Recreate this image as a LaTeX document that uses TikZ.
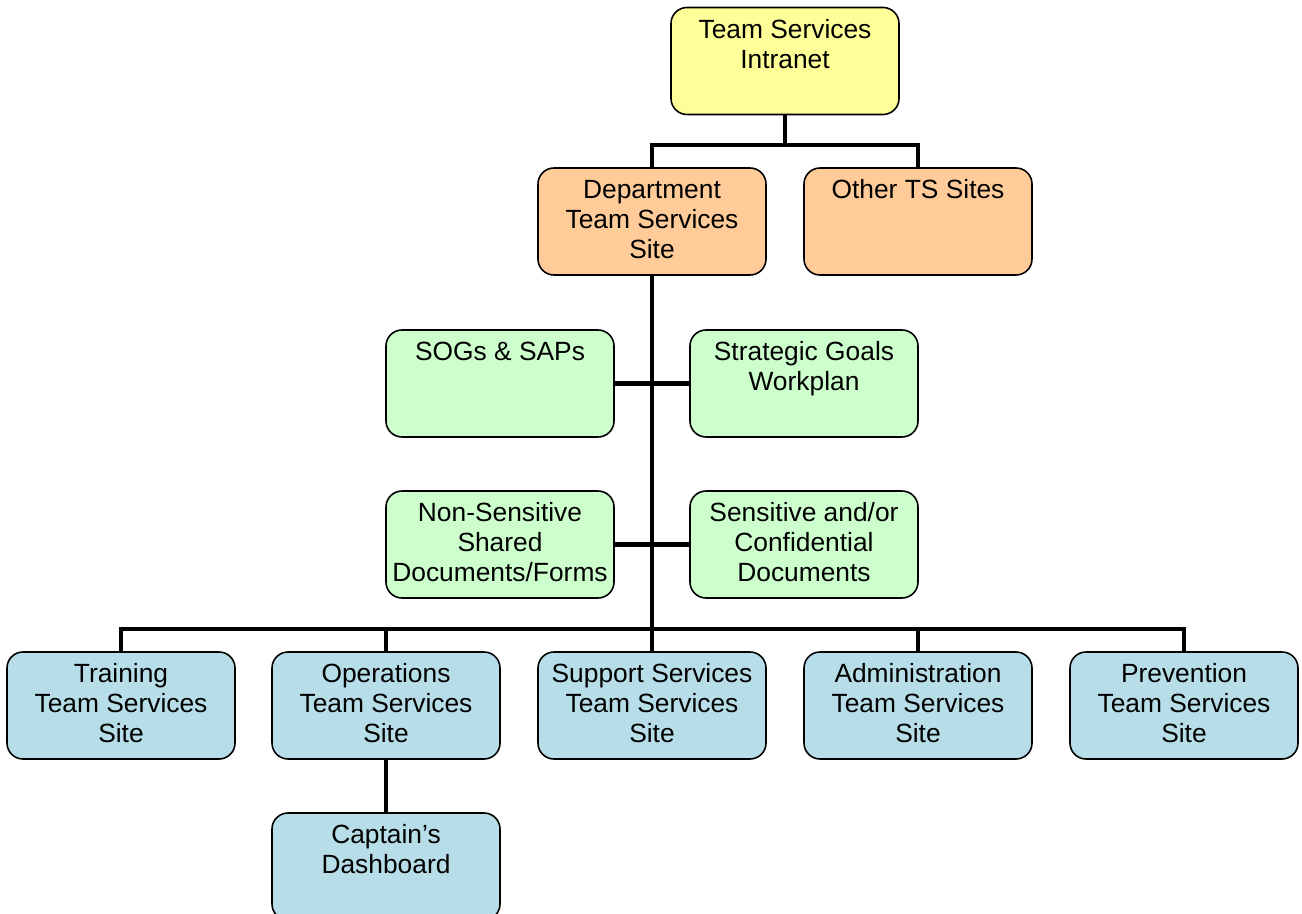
\documentclass[tikz,border=0pt]{standalone}
\usepackage{fontspec}
\setmainfont{Liberation Sans}
\usepackage{tikz}

\definecolor{intranetyellow}{HTML}{FFFF99}
\definecolor{deptorange}{HTML}{FFCC99}
\definecolor{docgreen}{HTML}{CCFFCC}
\definecolor{siteblue}{HTML}{B7DEE8}

\newcommand{\sitetext}[1]{\parbox[c][2.14cm][t]{4.56cm}{\centering\fontsize{15}{17}\selectfont\rule{0pt}{17.6pt}#1}}

\tikzset{
	sitebox/.style = {draw=black, line width=0.9pt, rounded corners=0.32cm, inner sep=0pt, fill=#1},
	wire/.style = {draw=black, line width=2.8pt}
}

\begin{document}
\begin{tikzpicture}
	\useasboundingbox (0,0) rectangle (26.04,-18.28);

	\node[sitebox=intranetyellow] (intranet) at (15.7,-1.22) {\sitetext{Team Services\\Intranet}};

	\node[sitebox=deptorange] (dept) at (13.04,-4.43) {\sitetext{Department\\Team Services\\Site}};
	\node[sitebox=deptorange] (other) at (18.36,-4.43) {\sitetext{Other TS Sites}};

	\node[sitebox=docgreen] (sogs) at (10.0,-7.67) {\sitetext{SOGs \& SAPs}};
	\node[sitebox=docgreen] (goals) at (16.08,-7.67) {\sitetext{Strategic Goals\\Workplan}};

	\node[sitebox=docgreen] (shared) at (10.0,-10.89) {\sitetext{Non-Sensitive\\Shared\\Documents/Forms}};
	\node[sitebox=docgreen] (confidential) at (16.08,-10.89) {\sitetext{Sensitive and/or\\Confidential\\Documents}};

	\node[sitebox=siteblue] (training) at (2.42,-14.11) {\sitetext{Training\\Team Services\\Site}};
	\node[sitebox=siteblue] (ops) at (7.72,-14.11) {\sitetext{Operations\\Team Services\\Site}};
	\node[sitebox=siteblue] (support) at (13.04,-14.11) {\sitetext{Support Services\\Team Services\\Site}};
	\node[sitebox=siteblue] (admin) at (18.36,-14.11) {\sitetext{Administration\\Team Services\\Site}};
	\node[sitebox=siteblue] (prevention) at (23.68,-14.11) {\sitetext{Prevention\\Team Services\\Site}};

	\node[sitebox=siteblue] (captain) at (7.72,-17.33) {\sitetext{Captain’s\\Dashboard}};

	% bus lines
	\coordinate (topbus) at (0,-2.9);
	\coordinate (lowbus) at (0,-12.58);

	\draw[wire] (intranet.south) -- (intranet.south |- topbus);
	\draw[wire] (dept.north) |- (other.north |- topbus) -- (other.north);

	\draw[wire] (dept.south) -- (dept.south |- lowbus);
	\draw[wire] (sogs) -- (goals);
	\draw[wire] (shared) -- (confidential);

	\draw[wire] (training.north) |- (prevention.north |- lowbus) -- (prevention.north);
	\foreach \site in {ops, support, admin}
		\draw[wire] (\site.north) -- (\site.north |- lowbus);

	\draw[wire] (ops.south) -- (captain.north);
\end{tikzpicture}
\end{document}
